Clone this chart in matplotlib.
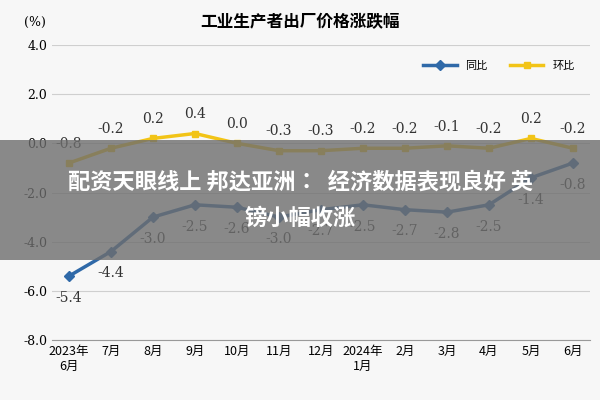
import matplotlib.pyplot as plt
from matplotlib import font_manager
from matplotlib.patches import Rectangle

cjk = [f.name for f in font_manager.fontManager.ttflist if "CJK" in f.name]
cjk_name = "Noto Sans CJK SC" if "Noto Sans CJK SC" in cjk else (cjk[0] if cjk else "DejaVu Sans")
plt.rcParams["font.family"] = ["DejaVu Serif", cjk_name]

months = ["2023年\n6月", "7月", "8月", "9月", "10月", "11月", "12月",
          "2024年\n1月", "2月", "3月", "4月", "5月", "6月"]
yoy = [-5.4, -4.4, -3.0, -2.5, -2.6, -3.0, -2.7, -2.5, -2.7, -2.8, -2.5, -1.4, -0.8]
mom = [-0.8, -0.2, 0.2, 0.4, 0.0, -0.3, -0.3, -0.2, -0.2, -0.1, -0.2, 0.2, -0.2]

blue = "#2f69a8"
yellow = "#f2c417"

fig = plt.figure(figsize=(6, 4), dpi=100, facecolor="#f7f7f7")
ax = fig.add_axes([0.087, 0.15, 0.896, 0.7375])
ax.set_facecolor("#f7f7f7")
x = list(range(len(months)))

ax.plot(x, yoy, color=blue, lw=2.5, marker="D", ms=5, label="同比", zorder=3)
ax.plot(x, mom, color=yellow, lw=2.5, marker="s", ms=5, label="环比", zorder=3)

for i, v in enumerate(yoy):
    ax.text(i, v - 0.6, f"{v:.1f}", ha="center", va="top", fontsize=10, color="#333")
for i, v in enumerate(mom):
    ax.text(i, v + 0.5, f"{v:.1f}", ha="center", va="bottom", fontsize=10, color="#333")

ax.set_xlim(-0.4, len(months) - 0.6)
ax.set_ylim(-8, 4)
yt = [4, 2, 0, -2, -4, -6, -8]
ax.set_yticks(yt)
ax.set_yticklabels([f"{t:.1f}" for t in yt], fontsize=9)
ax.set_xticks(x)
ax.set_xticklabels(months, fontsize=9, fontfamily=cjk_name)
ax.grid(axis="y", color="#cfcfcf", lw=0.8)
for s in ["top", "right", "left"]:
    ax.spines[s].set_visible(False)
ax.spines["bottom"].set_color("#999")
ax.tick_params(length=0)

ax.legend(loc="upper right", bbox_to_anchor=(0.99, 0.98), ncol=2, frameon=False,
          prop={"family": cjk_name, "size": 8}, handlelength=3)

fig.text(0.5, 0.945, "工业生产者出厂价格涨跌幅", ha="center", va="center",
         fontsize=12, fontweight="bold", fontfamily=cjk_name)
fig.text(0.04, 0.945, "(%)", ha="left", va="center", fontsize=9)

# 覆盖的横幅
fig.patches.append(Rectangle((0, 0.35), 1, 0.3, transform=fig.transFigure,
                             facecolor="#6e6e6e", alpha=0.8, zorder=10))
fig.text(0.5, 0.545, "配资天眼线上 邦达亚洲：  经济数据表现良好 英", ha="center", va="center",
         fontsize=16, fontweight="bold", color="white", fontfamily=cjk_name, zorder=11)
fig.text(0.5, 0.455, "镑小幅收涨", ha="center", va="center",
         fontsize=16, fontweight="bold", color="white", fontfamily=cjk_name, zorder=11)

fig.savefig("out.png", dpi=100, facecolor=fig.get_facecolor())
